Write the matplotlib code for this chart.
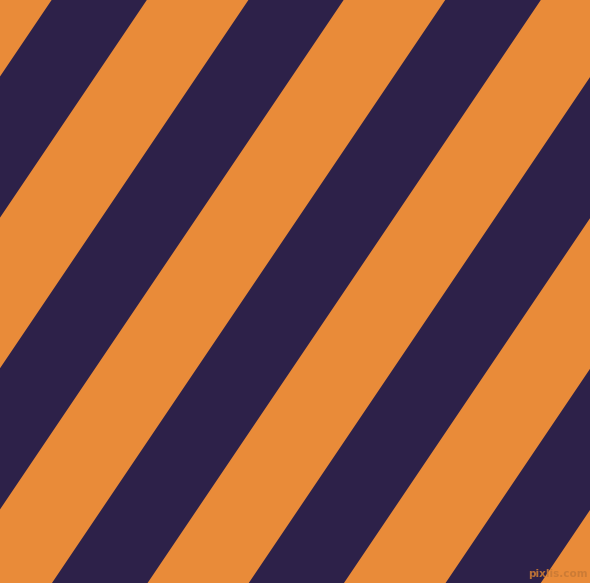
import numpy as np
import matplotlib
matplotlib.use("Agg")
import matplotlib.pyplot as plt

# Stripe data: positions (along the top edge, px) where each dark stripe begins and ends
dark_starts = [-145.2, 51.6, 248.4, 445.2, 642.0, 838.8]
dark_ends = [-50.0, 146.8, 343.6, 540.8, 737.2, 934.0]
angle_deg = 56.0
orange = "#E98B39"
dark = "#2D2149"
W, H = 590, 583

fig = plt.figure(figsize=(W / 100, H / 100), dpi=100)
ax = fig.add_axes([0, 0, 1, 1])
ax.set_facecolor(orange)
fig.patch.set_facecolor(orange)

slope = np.tan(np.radians(angle_deg))
y = np.array([0, H])
for u0, u1 in zip(dark_starts, dark_ends):
    ax.fill_betweenx(y, u0 - y / slope, u1 - y / slope, color=dark, linewidth=0, antialiased=True)

ax.text(W - 2, H - 4, "pixlis.com", ha="right", va="bottom", fontsize=7.5,
        color="#C97A35", family="DejaVu Sans", fontweight="bold", alpha=0.9)

ax.set_xlim(0, W)
ax.set_ylim(H, 0)
ax.axis("off")
fig.savefig("out.png", dpi=100, facecolor=orange)
